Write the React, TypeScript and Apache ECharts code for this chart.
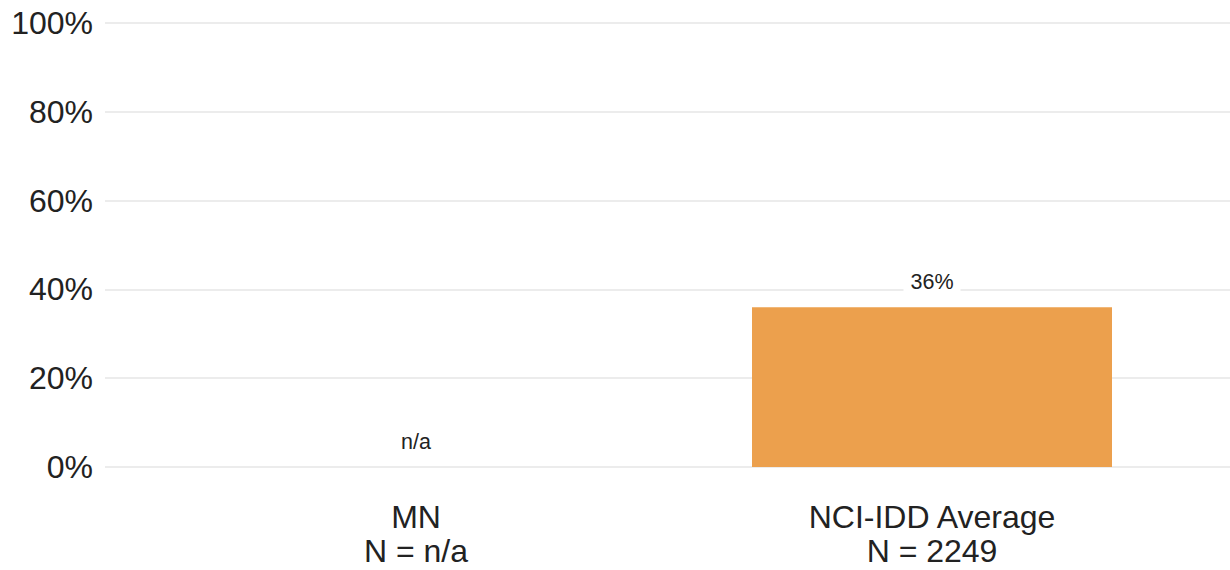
import React, { useEffect, useRef } from "react";
import * as echarts from "echarts";

const categories = ["MN\nN = n/a", "NCI-IDD Average\nN = 2249"];
const values: (number | null)[] = [null, 36];
const yTicks = [0, 20, 40, 60, 80, 100];

const FONT = "'Liberation Sans', Arial, sans-serif";
const TEXT = "#222222";

export default function App() {
  const ref = useRef<HTMLDivElement>(null);
  useEffect(() => {
    document.body.style.margin = "0";
    if (!ref.current) return;
    const chart = echarts.init(ref.current, undefined, { renderer: "svg" });
    const seriesData = values.map((v) =>
      v === null
        ? { value: 0, label: { formatter: "n/a" } }
        : { value: v, label: { formatter: `${v}%` } }
    );
    chart.setOption({
      animation: false,
      backgroundColor: "#ffffff",
      textStyle: { fontFamily: FONT },
      grid: [
        { left: 105, right: 0, top: 23, bottom: 103, containLabel: false },
        { left: 158, right: 40, top: 23, bottom: 103, containLabel: false },
      ],
      xAxis: [
        { type: "category", gridIndex: 0, data: ["", ""], show: false },
        {
          type: "category",
          gridIndex: 1,
          data: categories,
          axisLine: { show: false },
          axisTick: { show: false },
          axisLabel: {
            color: TEXT,
            fontSize: 32,
            lineHeight: 34,
            margin: 33,
            fontFamily: FONT,
            align: "center",
          },
        },
      ],
      yAxis: [
        {
          type: "value",
          gridIndex: 0,
          min: yTicks[0],
          max: yTicks[yTicks.length - 1],
          interval: 20,
          axisLine: { show: false },
          axisTick: { show: false },
          axisLabel: {
            formatter: "{value}%",
            color: TEXT,
            fontSize: 32,
            margin: 12,
            fontFamily: FONT,
          },
          splitLine: { show: true, lineStyle: { color: "#e6e6e6", width: 1.5 } },
        },
        {
          type: "value",
          gridIndex: 1,
          min: yTicks[0],
          max: yTicks[yTicks.length - 1],
          interval: 20,
          show: false,
          splitLine: { show: false },
        },
      ],
      series: [
        {
          type: "bar",
          xAxisIndex: 1,
          yAxisIndex: 1,
          data: seriesData,
          barWidth: 360,
          itemStyle: { color: "#eca04d" },
          label: {
            show: true,
            position: "top",
            distance: 12,
            color: TEXT,
            fontSize: 21.5,
            fontFamily: FONT,
            backgroundColor: "#ffffff",
            padding: [2, 7],
          },
        },
      ],
    });
    return () => chart.dispose();
  }, []);
  return <div ref={ref} style={{ width: 1230, height: 570 }} />;
}
